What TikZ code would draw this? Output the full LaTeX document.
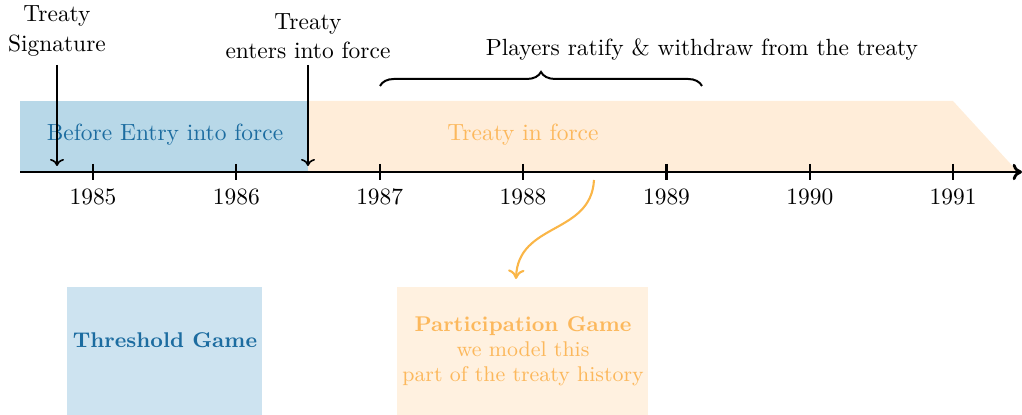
\documentclass[tikz,border=0pt]{standalone}
\usetikzlibrary{arrows.meta,decorations.pathreplacing}
\definecolor{tabblue}{RGB}{31,119,180}
\definecolor{bandblue}{RGB}{184,216,232}
\definecolor{boxblue}{RGB}{205,227,240}
\definecolor{bandorange}{RGB}{255,237,217}
\definecolor{boxorange}{RGB}{255,241,224}
\definecolor{txtorange}{RGB}{252,184,92}
\definecolor{arrorange}{RGB}{250,182,72}
\definecolor{txtblue}{RGB}{28,108,160}
\tikzset{
  axisline/.style={line width=1.2pt,-{To[length=4pt,width=7pt]}},
  tickmark/.style={line width=1pt},
  callout/.style={line width=0.7pt,-{To[length=3pt,width=6pt]}},
  toplbl/.style={align=center,inner sep=1pt,font=\fontsize{10}{12.6}\selectfont},
  boxtxt/.style={align=center,font=\fontsize{9.1}{10.7}\selectfont},
}
\begin{document}
\begin{tikzpicture}[x=0.427pt,y=-0.427pt]
\useasboundingbox (0,0) rectangle (1022,415);
% bands
\fill[bandblue] (20,101) rectangle (308,172);
\fill[bandorange] (308,101) -- (953,101) -- (1018,172) -- (308,172) -- cycle;
\node[text=txtblue] (before) at (165,135) {Before Entry into force};
\node[text=txtorange] (inforce) at (523,135) {Treaty in force};
% axis
\coordinate (a0) at (20,172);
\coordinate (a1) at (1022,172);
\draw[axisline] (a0) -- (a1);
\foreach \y/\xx in {1985/93,1986/236.3,1987/379.7,1988/523,1989/666.5,1990/809.8,1991/953.1}{
  \draw[tickmark] (\xx,164) -- (\xx,180);
  \node (y\y) at (\xx,197) {\y};
}
% top labels
\node[toplbl] (sig) at (57,31) {Treaty\\Signature};
\node[toplbl] (eif) at (308,36) {Treaty\\enters into force};
\coordinate (sigpt) at (57,166);
\coordinate (eifpt) at (308,166);
\draw[callout] (sig.south |- 0,65) -- (sigpt);
\draw[callout] (eif.south |- 0,65) -- (eifpt);
% brace
\coordinate (b0) at (380,86);
\coordinate (b1) at (702,86);
\draw[line width=0.85pt,decorate,decoration={brace,amplitude=6pt}] (b0) -- (b1);
\node (players) at (702,50) {Players ratify \& withdraw from the treaty};
% game boxes
\fill[boxblue] (67,287) rectangle (262,415);
\fill[boxorange] (397,287) rectangle (648,415);
\node[boxtxt,text=txtblue] (thr) at (165,340) {\bfseries Threshold Game};
\node[boxtxt,text=txtorange] (parttxt) at (523,351) {\textbf{Participation Game}\\we model this\\part of the treaty history};
% curved arrow
\coordinate (cs) at (594,180);
\coordinate (ce) at (516,279);
\draw[arrorange,line width=0.9pt,-{To[length=4pt,width=7pt]}] (cs) .. controls (591,235) and (518,222) .. (ce);
\end{tikzpicture}
\end{document}
